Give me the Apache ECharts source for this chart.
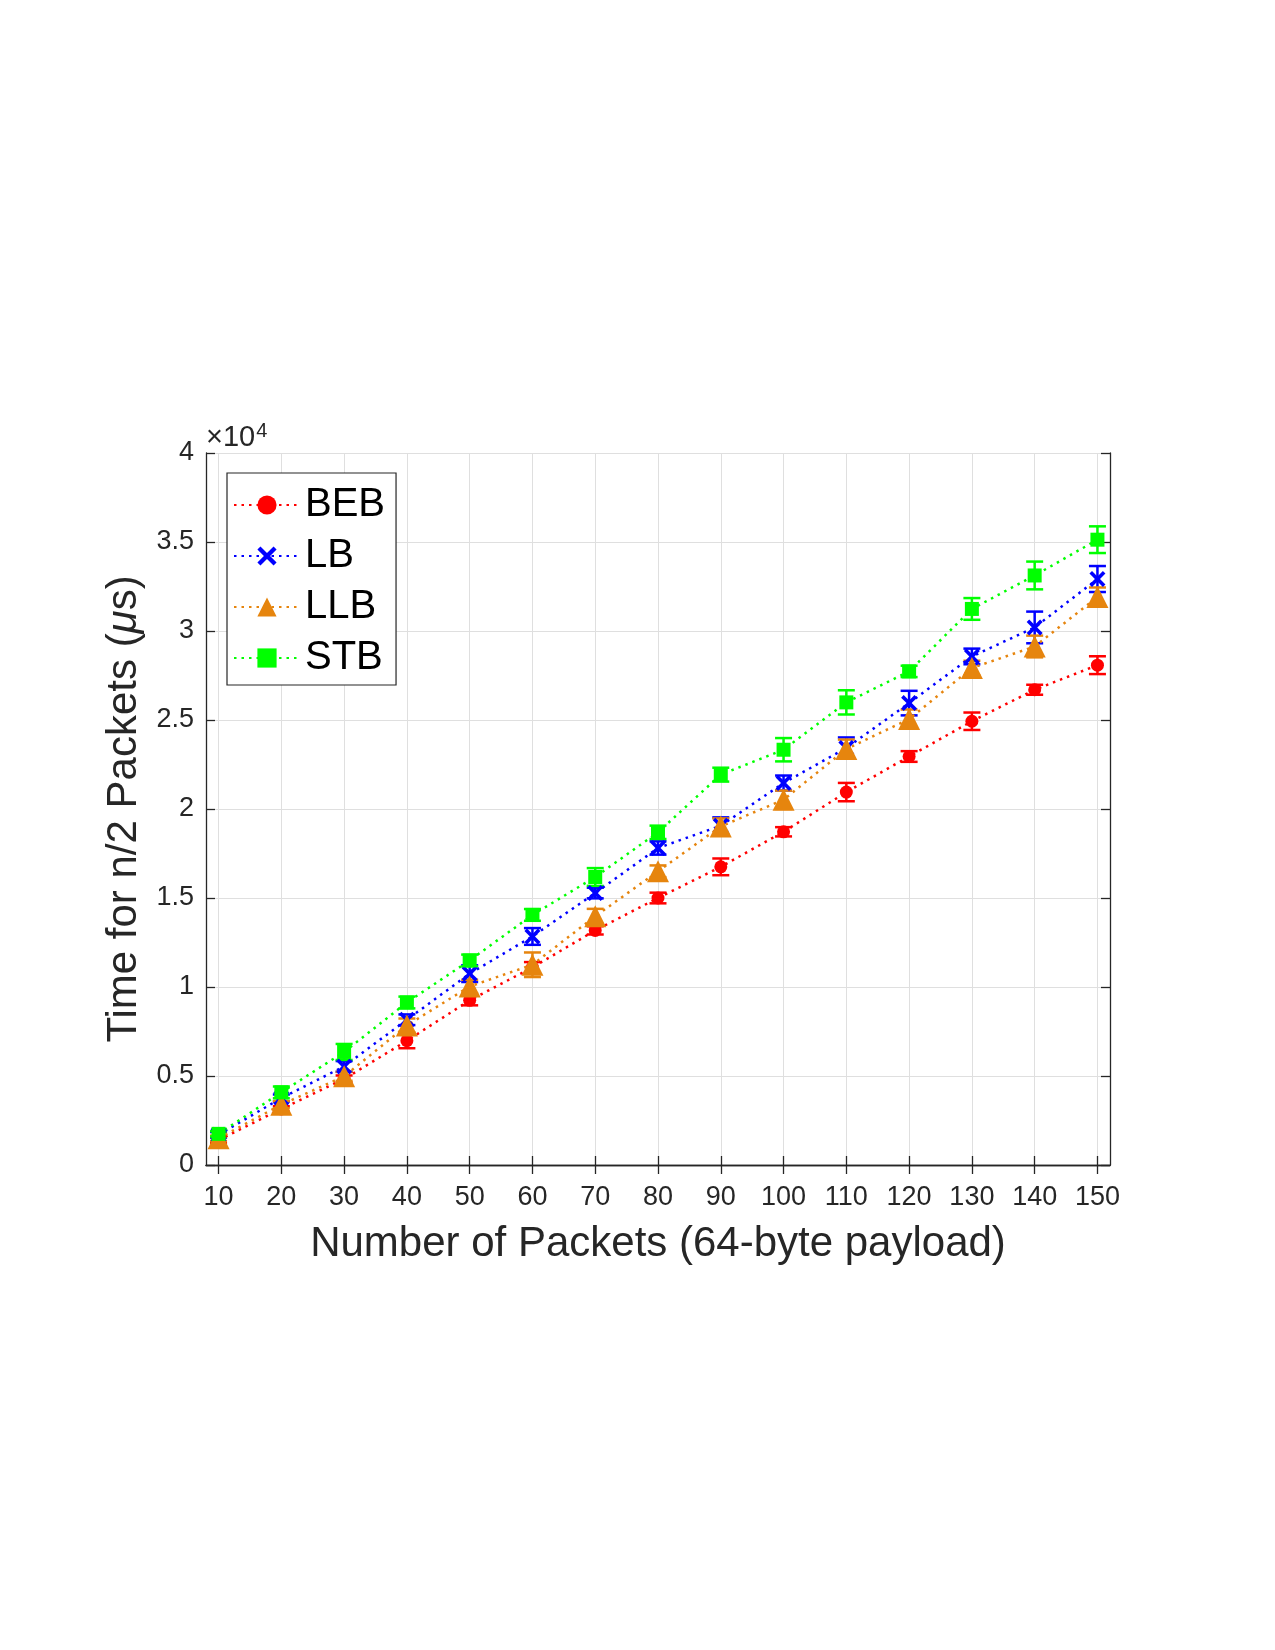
<!DOCTYPE html>
<head>
    <meta charset="utf-8">
    <title>ECharts</title>
</head>
<body style="margin:0;background:#fff">

<div id="main" style="height:1650px;width:1275px"></div>
<script src="https://cdn.jsdelivr.net/npm/echarts@6/dist/echarts.min.js"></script>

<script type="text/javascript">
// x positions (number of packets)
var packets = [10, 20, 30, 40, 50, 60, 70, 80, 90, 100, 110, 120, 130, 140, 150];
var xTicks = packets;

// mean time for n/2 packets (us)
var bebMean = [1400, 3150, 4830, 6980, 9250, 11100, 13180, 15000, 16750, 18720, 20950, 22950, 24930, 26700, 28080];
var lbMean  = [1700, 3760, 5540, 8160, 10750, 12840, 15280, 17810, 19060, 21460, 23430, 25950, 28570, 30200, 32920];
var llbMean = [1500, 3390, 4980, 7840, 10030, 11250, 13970, 16500, 19020, 20520, 23370, 25050, 27920, 29130, 31910];
var stbMean = [1750, 4080, 6350, 9130, 11490, 14050, 16180, 18690, 21930, 23330, 25990, 27730, 31240, 33120, 35130];

// half length of error bars
var bebErr = [150, 150, 200, 420, 280, 300, 230, 300, 470, 260, 515, 300, 490, 280, 500];
var lbErr  = [150, 200, 300, 300, 470, 470, 300, 375, 470, 420, 590, 690, 440, 890, 730];
var llbErr = [150, 200, 250, 390, 375, 690, 420, 330, 450, 515, 530, 540, 410, 610, 535];
var stbErr = [150, 330, 450, 330, 330, 330, 500, 375, 390, 655, 680, 320, 610, 780, 750];

var FONT = "'Liberation Sans', Arial, Helvetica, sans-serif";
var crossPath = 'path://M1.6,0 L5,3.4 L8.4,0 L10,1.6 L6.6,5 L10,8.4 L8.4,10 L5,6.6 L1.6,10 L0,8.4 L3.4,5 L0,1.6 Z';

function pairs(mean) {
    return packets.map(function (x, i) { return [x, mean[i]]; });
}
function errData(mean, err) {
    return packets.map(function (x, i) { return [x, mean[i] - err[i], mean[i] + err[i]]; });
}
function errSeries(name, color, mean, err) {
    return {
        name: name, type: 'custom', silent: true,
        data: errData(mean, err),
        renderItem: function (params, api) {
            var lo = api.coord([api.value(0), api.value(1)]);
            var hi = api.coord([api.value(0), api.value(2)]);
            var w = 8.5;
            var st = { stroke: color, lineWidth: 2.5 };
            return {
                type: 'group',
                children: [
                    { type: 'line', shape: { x1: lo[0], y1: lo[1], x2: hi[0], y2: hi[1] }, style: st },
                    { type: 'line', shape: { x1: lo[0] - w, y1: lo[1], x2: lo[0] + w, y2: lo[1] }, style: st },
                    { type: 'line', shape: { x1: hi[0] - w, y1: hi[1], x2: hi[0] + w, y2: hi[1] }, style: st }
                ]
            };
        },
        z: 2
    };
}
function lineSeries(name, color, mean, symbol, size) {
    return {
        name: name, type: 'line', data: pairs(mean),
        symbol: symbol, symbolSize: size,
        itemStyle: { color: color },
        lineStyle: { color: color, width: 2.5, type: [2.5, 5] },
        z: 3
    };
}

var myChart = echarts.init(document.getElementById('main'));
var axisCol = '#262626';
var option = {
    backgroundColor: '#fff',
    animation: false,
    textStyle: { fontFamily: FONT },
    grid: { left: 206, top: 453, width: 904, height: 712 },
    legend: {
        data: ['BEB', 'LB', 'LLB', 'STB'],
        orient: 'vertical', left: 227, top: 473,
        itemWidth: 66, itemHeight: 24, itemGap: 11,
        padding: [12, 11, 7, 6],
        backgroundColor: '#fff', borderColor: axisCol, borderWidth: 1.2,
        textStyle: { fontSize: 40, color: '#000', fontFamily: FONT, lineHeight: 38 }
    },
    xAxis: [{
        type: 'value', min: 8, max: 152,
        name: 'Number of Packets (64-byte payload)',
        nameLocation: 'middle', nameGap: 58,
        nameTextStyle: { fontSize: 42, color: axisCol, fontFamily: FONT },
        axisLine: { lineStyle: { color: axisCol, width: 1.3 } },
        axisTick: { inside: true, length: 9, customValues: xTicks, lineStyle: { color: axisCol, width: 1.3 } },
        axisLabel: { customValues: xTicks, fontSize: 27, color: axisCol, margin: 19, fontFamily: FONT },
        splitLine: { show: true, lineStyle: { color: '#dfdfdf', width: 1 } }
    }, {
        type: 'value', min: 8, max: 152, position: 'top',
        axisLine: { lineStyle: { color: axisCol, width: 1.3 } },
        axisTick: { inside: true, length: 9, customValues: xTicks, lineStyle: { color: axisCol, width: 1.3 } },
        axisLabel: { show: false },
        splitLine: { show: false }
    }],
    yAxis: [{
        type: 'value', min: 0, max: 40000, interval: 5000,
        name: 'Time for n/2 Packets ({mu|μ}s)',
        nameLocation: 'middle', nameGap: 60,
        nameTextStyle: { fontSize: 42, color: axisCol, fontFamily: FONT,
            rich: { mu: { fontSize: 42, fontStyle: 'italic', color: axisCol, fontFamily: FONT } } },
        axisLine: { show: true, lineStyle: { color: axisCol, width: 1.3 } },
        axisTick: { show: true, inside: true, length: 9, lineStyle: { color: axisCol, width: 1.3 } },
        axisLabel: { fontSize: 27, color: axisCol, margin: 12, fontFamily: FONT, padding: [6, 0, 0, 0],
            formatter: function (v) { return String(v / 10000); } },
        splitLine: { show: true, lineStyle: { color: '#dfdfdf', width: 1 } }
    }, {
        type: 'value', min: 0, max: 40000, interval: 5000, position: 'right',
        axisLine: { show: true, lineStyle: { color: axisCol, width: 1.3 } },
        axisTick: { show: true, inside: true, length: 9, lineStyle: { color: axisCol, width: 1.3 } },
        axisLabel: { show: false },
        splitLine: { show: false }
    }],
    graphic: [{
        type: 'text', left: 206, top: 421,
        style: {
            text: '×10{s|4}', fontSize: 29, fill: axisCol, fontFamily: FONT,
            rich: { s: { fontSize: 20, fill: axisCol, verticalAlign: 'top', padding: [0, 0, 14, 1] } }
        }
    }],
    series: [
        errSeries('BEB err', '#ff0000', bebMean, bebErr),
        lineSeries('BEB', '#ff0000', bebMean, 'circle', 13),
        errSeries('LB err', '#0000ff', lbMean, lbErr),
        lineSeries('LB', '#0000ff', lbMean, crossPath, 16),
        errSeries('LLB err', '#e6850e', llbMean, llbErr),
        lineSeries('LLB', '#e6850e', llbMean, 'triangle', 22),
        errSeries('STB err', '#00ff00', stbMean, stbErr),
        lineSeries('STB', '#00ff00', stbMean, 'rect', 14)
    ]
};
myChart.setOption(option);
</script>
</body>
